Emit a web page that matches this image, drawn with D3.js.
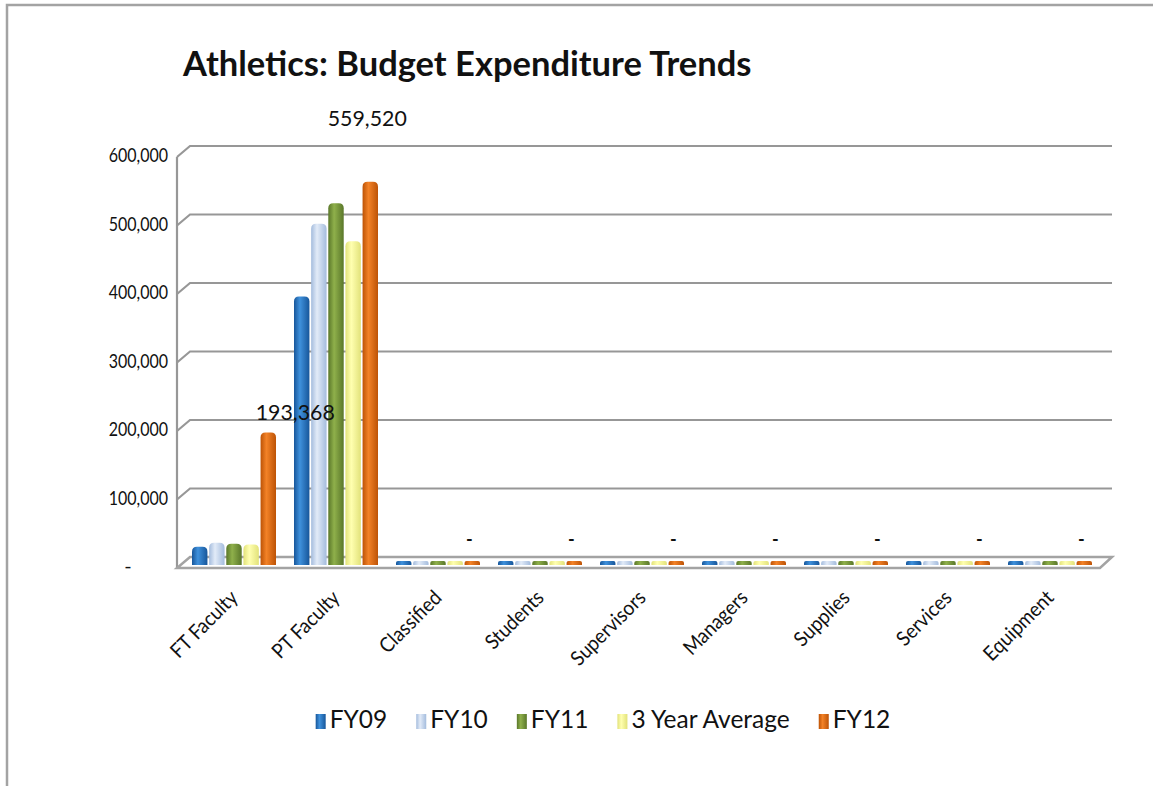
<!DOCTYPE html>
<html>
<head>
<meta charset="utf-8">
<script src="https://cdn.jsdelivr.net/npm/d3@7"></script>
<style>
  html, body { margin: 0; padding: 0; background: #fff; }
  svg { display: block; }
  text { font-family: Lato, "Open Sans", sans-serif; fill: #111; }
</style>
</head>
<body>
<svg id="chart" width="1153" height="786"></svg>
<script>
// Expenditure categories and yearly series
const categories = ["FT Faculty", "PT Faculty", "Classified", "Students", "Supervisors",
                    "Managers", "Supplies", "Services", "Equipment"];
const seriesNames = ["FY09", "FY10", "FY11", "3 Year Average", "FY12"];

const fy09 = [26500, 392000, 1500, 1200, 1000, 1200, 1500, 6000, 1500];
const fy10 = [32500, 498000, 1000, 1000, 1000, 1000, 1000, 2500, 1000];
const fy11 = [31000, 528000, 1500, 1500, 1500, 1500, 1500, 2000, 1500];
const avg3 = [30000, 472667, 1333, 1233, 1167, 1233, 1333, 3500, 1333];
const fy12 = [193368, 559520, 0, 0, 0, 0, 0, 0, 0];

const yTicks = [0, 100000, 200000, 300000, 400000, 500000, 600000];
const chartTitle = "Athletics: Budget Expenditure Trends";

const seriesValues = [fy09, fy10, fy11, avg3, fy12];
const seriesColors = [
  { edge: "#17569a", mid: "#3f91dc" },
  { edge: "#a4bcdd", mid: "#e2ebf8" },
  { edge: "#5a772a", mid: "#8fb04b" },
  { edge: "#e2e27a", mid: "#ffffb0" },
  { edge: "#bd5306", mid: "#f38227" }
];

const svg = d3.select("#chart");
const defs = svg.append("defs");

seriesColors.forEach((c, i) => {
  const g = defs.append("linearGradient").attr("id", "grad" + i)
    .attr("x1", 0).attr("x2", 1).attr("y1", 0).attr("y2", 0);
  g.append("stop").attr("offset", "0%").attr("stop-color", c.edge);
  g.append("stop").attr("offset", "38%").attr("stop-color", c.mid);
  g.append("stop").attr("offset", "100%").attr("stop-color", c.edge);
});

// narrow the glyphs a little so the humanist face sets tighter
function condense(sel, k) {
  sel.each(function () {
    const w = this.getComputedTextLength();
    d3.select(this).attr("textLength", w * k).attr("lengthAdjust", "spacingAndGlyphs");
  });
}

// outer frame
svg.append("path").attr("d", "M7,786 L7,5 L1153,5")
  .attr("fill", "none").attr("stroke", "#a3a3a3").attr("stroke-width", 2.5);

// title
svg.append("text").attr("x", 183).attr("y", 76)
  .style("font-size", "34.5px").style("font-weight", "bold")
  .text(chartTitle);

// scales
const x = d3.scaleBand().domain(categories).range([183, 183 + 102 * categories.length]);
const xs = d3.scaleBand().domain(seriesNames).range([-42, 42]).paddingInner(0.1);
const y = d3.scaleLinear().domain([0, 600000]).range([565, 154]);

// depth offsets of the 3D box
const backDx = 190, frontDx = 177, backDy = -8, frontDy = 3, rightBack = 1112, rightFront = 1100;

const grid = svg.append("g");
yTicks.filter(t => t > 0).forEach(t => {
  grid.append("path")
    .attr("d", `M${frontDx},${y(t) + frontDy} L${backDx},${y(t) + backDy} L${rightBack},${y(t) + backDy}`)
    .attr("fill", "none").attr("stroke", "#979797").attr("stroke-width", 2.2);
});
// left wall edge
grid.append("line").attr("x1", frontDx).attr("x2", frontDx)
  .attr("y1", y(600000) + frontDy).attr("y2", y(0) + frontDy)
  .attr("stroke", "#979797").attr("stroke-width", 2.2);
// floor
grid.append("path")
  .attr("d", `M${frontDx},${y(0) + frontDy} L${rightFront},${y(0) + frontDy} L${rightBack},${y(0) + backDy} L${backDx},${y(0) + backDy} Z`)
  .attr("fill", "#fff").attr("stroke", "#a3a3a3").attr("stroke-width", 2.5);

// y tick labels (accounting style: zero shown as a centred dash)
const fmt = d3.format(",");
const yLabels = svg.append("g").selectAll("text").data(yTicks).join("text")
  .attr("x", d => d === 0 ? 128 : 168).attr("y", d => y(d) + frontDy)
  .attr("text-anchor", d => d === 0 ? "middle" : "end").attr("dominant-baseline", "middle")
  .style("font-size", "20px")
  .text(d => d === 0 ? "-" : fmt(d));
yLabels.filter(d => d > 0).call(condense, 0.8);

// bars with rounded tops
function roundedTop(x0, y0, w, h, r) {
  r = Math.min(r, h / 2, w / 2);
  return `M${x0},${y0 + h} L${x0},${y0 + r} Q${x0},${y0} ${x0 + r},${y0} L${x0 + w - r},${y0} Q${x0 + w},${y0} ${x0 + w},${y0 + r} L${x0 + w},${y0 + h} Z`;
}
const minH = 4;
const barData = [];
categories.forEach((c, ci) => {
  seriesNames.forEach((s, si) => {
    barData.push({ c, s, si, v: seriesValues[si][ci] });
  });
});
const bars = svg.append("g");
bars.selectAll("path").data(barData).join("path")
  .attr("d", d => {
    const cx = x(d.c) + x.bandwidth() / 2;
    const bx = cx + xs(d.s);
    const h = Math.max(y(0) - y(d.v), minH);
    return roundedTop(bx, y(0) - h, xs.bandwidth(), h, 5);
  })
  .attr("fill", d => `url(#grad${d.si})`);

// FY12 value labels, placed along the perspective of the box
const labelY = d3.scaleLinear().domain([0, 200000, 600000]).range([541, 410, 88]);
svg.append("g").selectAll("text").data(categories.map((c, i) => ({ c, v: fy12[i] }))).join("text")
  .attr("x", d => x(d.c) + x.bandwidth() / 2 + xs("FY12") + xs.bandwidth() / 2 + (d.v > 0 && d.v < 300000 ? 27 : -3))
  .attr("y", d => labelY(d.v))
  .attr("text-anchor", "middle").attr("dominant-baseline", "middle")
  .style("font-size", d => d.v === 0 ? "18px" : "22px")
  .style("font-weight", d => d.v === 0 ? "bold" : "normal")
  .text(d => d.v === 0 ? "-" : fmt(d.v))
  .filter(d => d.v > 0).call(condense, 0.97);

// category labels
svg.append("g").selectAll("text").data(categories).join("text")
  .attr("transform", d => `translate(${x(d) + x.bandwidth() / 2 + 5},${599}) rotate(-45)`)
  .attr("text-anchor", "end")
  .style("font-size", "20.5px")
  .text(d => d)
  .call(condense, 0.92);

// legend
const legend = svg.append("g");
let lx = 0;
seriesNames.forEach((s, i) => {
  const g = legend.append("g");
  g.append("rect").attr("x", 0).attr("y", -8).attr("width", 10).attr("height", 15)
    .attr("fill", `url(#grad${i})`);
  const t = g.append("text").attr("x", 14).attr("y", 0)
    .attr("dominant-baseline", "middle").style("font-size", "24.5px").text(s);
  const w = 14 + t.node().getComputedTextLength();
  g.attr("transform", `translate(${lx},0)`);
  lx += w + 29;
});
const legendW = lx - 29;
legend.attr("transform", `translate(${603 - legendW / 2},722)`);
</script>
</body>
</html>
